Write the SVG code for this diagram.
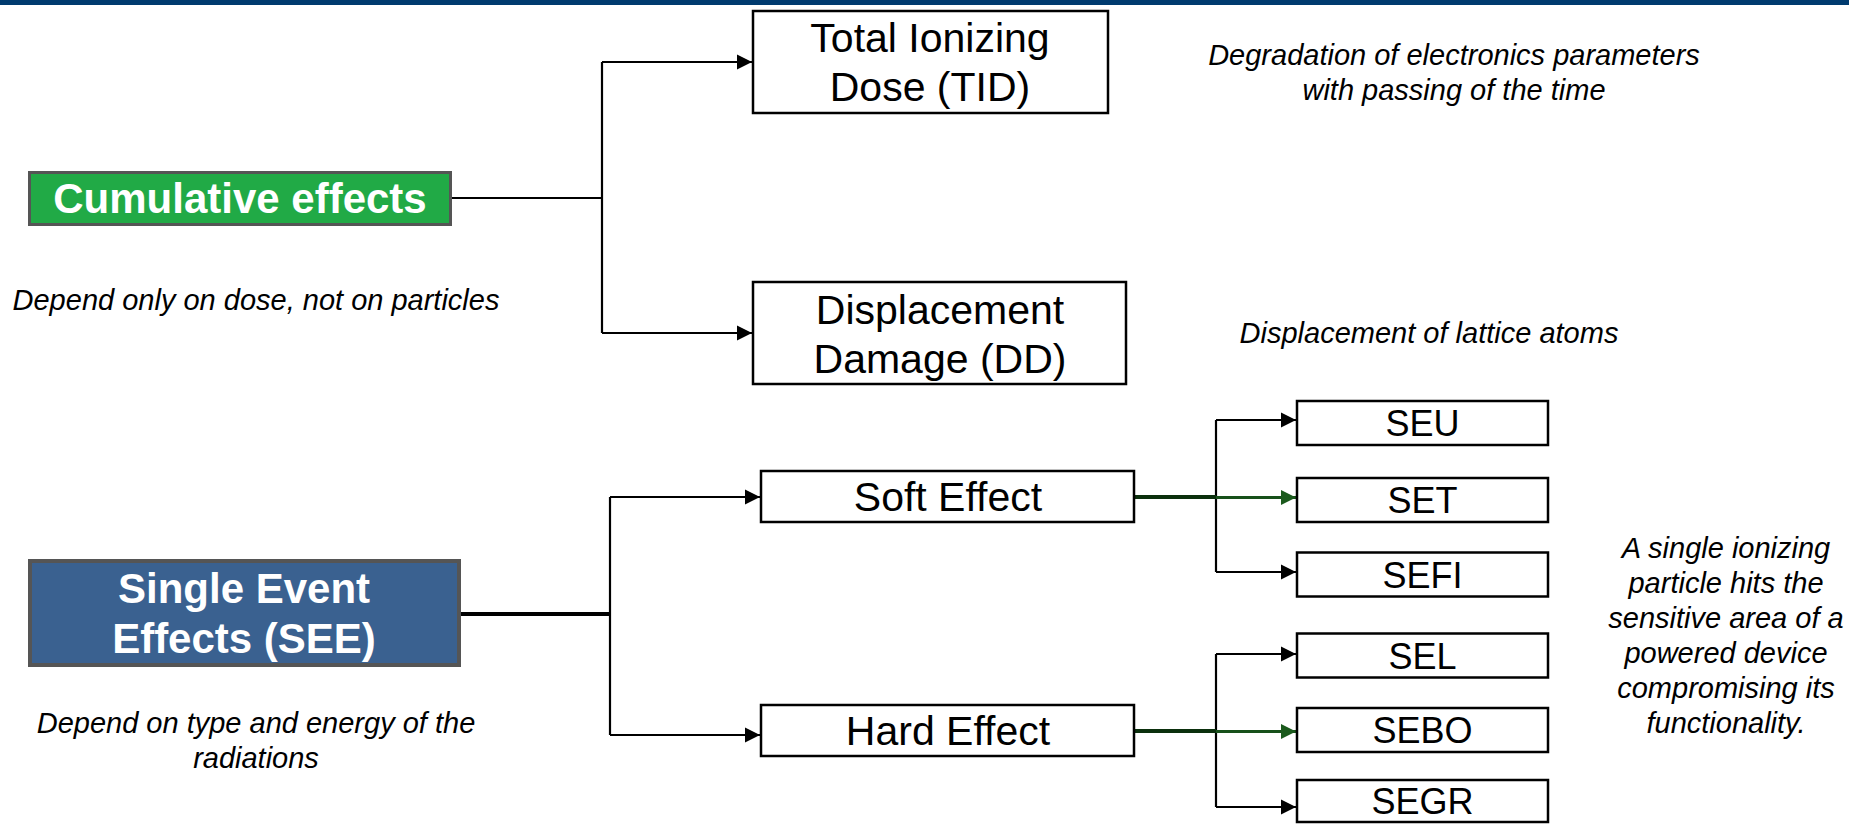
<svg xmlns="http://www.w3.org/2000/svg" width="1849" height="824" viewBox="0 0 1849 824">
<style>
.box{fill:#fff;stroke:#000;stroke-width:2.5}
.lbl{font-family:"Liberation Sans",Arial,sans-serif;font-size:41px;fill:#000;text-anchor:middle}
.se{font-family:"Liberation Sans",Arial,sans-serif;font-size:36px;fill:#000;text-anchor:middle}
.head{font-family:"Liberation Sans",Arial,sans-serif;font-size:42px;font-weight:bold;fill:#fff;text-anchor:middle}
.note{font-family:"Liberation Sans",Arial,sans-serif;font-size:29px;font-style:italic;fill:#000;text-anchor:middle}
.ln{fill:none;stroke:#000;stroke-width:2.2}
.arr{fill:none;stroke:#000;stroke-width:2.2;marker-end:url(#ah)}
.garr{fill:none;stroke:#17501a;stroke-width:3;marker-end:url(#gah)}
</style>
<defs>
<marker id="ah" markerUnits="userSpaceOnUse" markerWidth="16" markerHeight="16" refX="15" refY="8" orient="auto">
<path d="M0,0.5 L15,8 L0,15.5 z" fill="#000"/>
</marker>
<marker id="gah" markerUnits="userSpaceOnUse" markerWidth="16" markerHeight="16" refX="15" refY="8" orient="auto">
<path d="M0,0.5 L15,8 L0,15.5 z" fill="#1b5a1d"/>
</marker>
</defs>
<rect x="0" y="0" width="1849" height="824" fill="#fff"/>
<rect x="0" y="0" width="1849" height="5" fill="#003b6f"/>

<g id="connectors">
<path class="ln" d="M452,198 H602 M602,62 V333"/>
<path class="arr" d="M602,62 H752"/>
<path class="arr" d="M602,333 H752"/>
<path d="M461,614 H610" fill="none" stroke="#000" stroke-width="4"/>
<path class="ln" d="M610,497 V735"/>
<path class="arr" d="M610,497 H760"/>
<path class="arr" d="M610,735 H760"/>
<path class="ln" d="M1216,420 V572"/>
<path class="arr" d="M1216,420 H1296"/>
<path class="arr" d="M1216,572 H1296"/>
<path d="M1135,497 H1216" fill="none" stroke="#0b300d" stroke-width="4"/>
<path class="garr" d="M1216,497.5 H1296"/>
<path class="ln" d="M1216,654 V807"/>
<path class="arr" d="M1216,654 H1296"/>
<path class="arr" d="M1216,807 H1296"/>
<path d="M1135,731 H1216" fill="none" stroke="#0b300d" stroke-width="4"/>
<path class="garr" d="M1216,731.5 H1296"/>
</g>

<g id="cumulative">
<rect x="29.5" y="172.5" width="421" height="52" fill="#21aa46" stroke="#555" stroke-width="3"/>
<text class="head" x="240" y="213">Cumulative effects</text>
</g>
<g id="see">
<rect x="30" y="561" width="429" height="104" fill="#3a6190" stroke="#555" stroke-width="4"/>
<text class="head" x="244" y="603">Single Event</text>
<text class="head" x="244" y="653">Effects (SEE)</text>
</g>
<g id="tid">
<rect class="box" x="753" y="11" width="355" height="102"/>
<text class="lbl" x="930" y="52">Total Ionizing</text>
<text class="lbl" x="930" y="101">Dose (TID)</text>
</g>
<g id="dd">
<rect class="box" x="753" y="282" width="373" height="102"/>
<text class="lbl" x="940" y="324">Displacement</text>
<text class="lbl" x="940" y="373">Damage (DD)</text>
</g>
<g id="soft">
<rect class="box" x="761" y="471" width="373" height="51"/>
<text class="lbl" x="948" y="511">Soft Effect</text>
</g>
<g id="hard">
<rect class="box" x="761" y="705" width="373" height="51"/>
<text class="lbl" x="948" y="745">Hard Effect</text>
</g>
<g id="seu"><rect class="box" x="1297" y="401" width="251" height="44"/><text class="se" x="1422.5" y="436">SEU</text></g>
<g id="set"><rect class="box" x="1297" y="478" width="251" height="44"/><text class="se" x="1422.5" y="513">SET</text></g>
<g id="sefi"><rect class="box" x="1297" y="552.5" width="251" height="44"/><text class="se" x="1422.5" y="588">SEFI</text></g>
<g id="sel"><rect class="box" x="1297" y="633.5" width="251" height="44"/><text class="se" x="1422.5" y="669">SEL</text></g>
<g id="sebo"><rect class="box" x="1297" y="708" width="251" height="44"/><text class="se" x="1422.5" y="743">SEBO</text></g>
<g id="segr"><rect class="box" x="1297" y="780" width="251" height="42"/><text class="se" x="1422.5" y="814">SEGR</text></g>

<g id="notes">
<text class="note" x="256" y="310">Depend only on dose, not on particles</text>
<text class="note" x="256" y="733">Depend on type and energy of the</text>
<text class="note" x="256" y="768">radiations</text>
<text class="note" x="1454" y="65">Degradation of electronics parameters</text>
<text class="note" x="1454" y="100">with passing of the time</text>
<text class="note" x="1429" y="343">Displacement of lattice atoms</text>
<text class="note" x="1726" y="558">A single ionizing</text>
<text class="note" x="1726" y="593">particle hits the</text>
<text class="note" x="1726" y="628">sensitive area of a</text>
<text class="note" x="1726" y="663">powered device</text>
<text class="note" x="1726" y="698">compromising its</text>
<text class="note" x="1726" y="733">functionality.</text>
</g>
</svg>
